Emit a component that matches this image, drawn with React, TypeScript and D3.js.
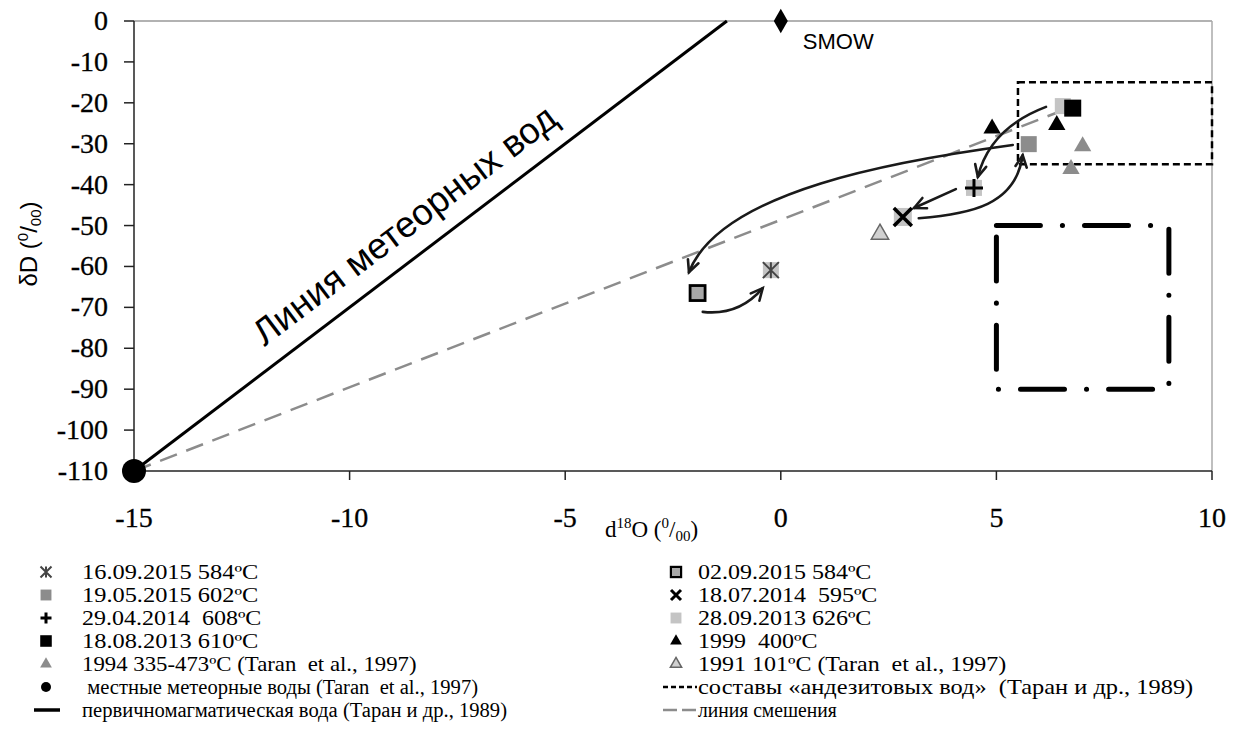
import React from "react";
import * as d3 from "d3";

type P = { x: number; y: number };

// ---- data ----
const xTicks = [-15, -10, -5, 0, 5, 10];
const yTicks = [0, -10, -20, -30, -40, -50, -60, -70, -80, -90, -100, -110];

const meteoricLine: P[] = [{ x: -15, y: -110 }, { x: -1.25, y: 0 }];
const mixingLine: P[] = [{ x: -15, y: -110 }, { x: 6.5, y: -22 }];
const localMeteoric: P[] = [{ x: -15, y: -110 }];
const smow: P[] = [{ x: 0, y: 0 }];

const andesiteBoxX = [5.5, 10];
const andesiteBoxY = [-35, -15];
const magmaticBoxX = [5, 9];
const magmaticBoxY = [-90, -50];

const s20150916: P[] = [{ x: -0.23, y: -60.9 }];
const s20150902: P[] = [{ x: -1.93, y: -66.5 }];
const s20150519: P[] = [{ x: 5.75, y: -30.1 }];
const s20140718: P[] = [{ x: 2.83, y: -47.9 }];
const s20140429: P[] = [{ x: 4.48, y: -40.8 }];
const s20130928: P[] = [{ x: 6.54, y: -20.8 }];
const s20130818: P[] = [{ x: 6.77, y: -21.3 }];
const s1999: P[] = [{ x: 4.9, y: -26.3 }, { x: 6.4, y: -25.4 }];
const s1994: P[] = [{ x: 7.0, y: -30.6 }, { x: 6.73, y: -36.2 }];
const s1991: P[] = [{ x: 2.3, y: -52.1 }];

// arrows (data coords): start, controls..., end
const arrows: P[][] = [
  [{ x: 6.15, y: -21.0 }, { x: 4.85, y: -26.2 }, { x: 4.57, y: -38.1 }],
  [{ x: 4.06, y: -41.1 }, { x: 3.09, y: -45.7 }],
  [{ x: 3.2, y: -48.2 }, { x: 4.41, y: -47.2 }, { x: 5.45, y: -45.0 }, { x: 5.61, y: -32.8 }],
  [{ x: 5.38, y: -30.3 }, { x: 2.78, y: -34.0 }, { x: -1.39, y: -41.3 }, { x: -2.13, y: -61.4 }],
  [{ x: -1.81, y: -71.1 }, { x: -0.97, y: -72.1 }, { x: -0.42, y: -65.3 }],
];

const meteoricLabel = "Линия метеорных вод";
const meteoricLabelAt: P = { x: -8.55, y: -52.3 };

const legendLeft = [
  "16.09.2015 584ºC",
  "19.05.2015 602ºC",
  "29.04.2014  608ºC",
  "18.08.2013 610ºC",
  "1994 335-473ºC (Taran  et al., 1997)",
  " местные метеорные воды (Taran  et al., 1997)",
  "первичномагматическая вода (Таран и др., 1989)",
];
const legendRight = [
  "02.09.2015 584ºC",
  "18.07.2014  595ºC",
  "28.09.2013 626ºC",
  "1999  400ºC",
  "1991 101ºC (Taran  et al., 1997)",
  "составы «андезитовых вод»  (Таран и др., 1989)",
  "линия смешения",
];

// ---- layout ----
const W = 1235;
const H = 751;
const xs = d3.scaleLinear().domain([-15, 10]).range([134, 1212]);
const ys = d3.scaleLinear().domain([-110, 0]).range([471, 21]);
const serif = "'Times New Roman', 'Liberation Serif', serif";
const sans = "Arial, 'Liberation Sans', sans-serif";

const GRAY = "#8c8c8c";
const LIGHT = "#c4c4c4";

function sym(type: d3.SymbolType, size: number) {
  return d3.symbol().type(type).size(size)() as string;
}

function plusPath(r: number) {
  return `M${-r},0H${r}M0,${-r}V${r}`;
}
function xPath(r: number) {
  return `M${-r},${-r}L${r},${r}M${-r},${r}L${r},${-r}`;
}
function asteriskPath(r: number) {
  return `M0,${-r}V${r}M${-r},${-r}L${r},${r}M${-r},${r}L${r},${-r}`;
}

function Marker({ kind, x, y, legend = false }: { kind: string; x: number; y: number; legend?: boolean }) {
  const k = legend ? 0.68 : 1;
  const t = `translate(${x},${y})`;
  switch (kind) {
    case "asterisk":
      return (
        <g transform={t}>
          {!legend && <rect x={-8} y={-8} width={16} height={16} fill={LIGHT} />}
          <path d={asteriskPath(legend ? 5.5 : 8)} stroke="#444" strokeWidth={2} fill="none" />
        </g>
      );
    case "graySquare":
      return <rect x={x - 8 * k} y={y - 8 * k} width={16 * k} height={16 * k} fill={GRAY} />;
    case "plus":
      return (
        <g transform={t}>
          {!legend && <rect x={-8} y={-8} width={16} height={16} fill={LIGHT} />}
          <path d={plusPath(legend ? 5.5 : 9)} stroke="#000" strokeWidth={3} fill="none" />
        </g>
      );
    case "blackSquare":
      return <rect x={x - 8.5 * k} y={y - 8.5 * k} width={17 * k} height={17 * k} fill="#000" />;
    case "grayTriangle":
      return <path transform={t} d={sym(d3.symbolTriangle, legend ? 60 : 130)} fill={GRAY} />;
    case "blackCircle":
      return <circle cx={x} cy={y} r={legend ? 5 : 12} fill="#000" />;
    case "outlineSquare":
      return (
        <rect x={x - 7.5 * k} y={y - 7.5 * k} width={15 * k} height={15 * k} fill="#a8a8a8" stroke="#000" strokeWidth={legend ? 2.2 : 2.8} />
      );
    case "xmark":
      return (
        <g transform={t}>
          {!legend && <rect x={-9} y={-9} width={18} height={18} fill={LIGHT} />}
          <path d={xPath(legend ? 5 : 9)} stroke="#000" strokeWidth={legend ? 3 : 3.5} fill="none" />
        </g>
      );
    case "lightSquare":
      return <rect x={x - 8 * k} y={y - 8 * k} width={16 * k} height={16 * k} fill={LIGHT} />;
    case "blackTriangle":
      return <path transform={t} d={sym(d3.symbolTriangle, legend ? 60 : 130)} fill="#000" />;
    case "openTriangle":
      return (
        <path transform={t} d={sym(d3.symbolTriangle, legend ? 55 : 130)} fill="#d0d0d0" stroke="#666" strokeWidth={1.5} />
      );
    case "diamond":
      return <path transform={t} d={sym(d3.symbolDiamond, 170)} fill="#000" />;
    case "solidLine":
      return <line x1={x - 12} x2={x + 14} y1={y} y2={y} stroke="#000" strokeWidth={3.5} />;
    case "dashLine":
      return <line x1={x - 13} x2={x + 21} y1={y} y2={y} stroke="#000" strokeWidth={2.5} strokeDasharray="5 3" />;
    case "grayDash":
      return <line x1={x - 13} x2={x + 21} y1={y} y2={y} stroke={GRAY} strokeWidth={2.5} strokeDasharray="14 5" />;
  }
  return null;
}

function arrowPath(pts: P[]) {
  const p = pts.map((d) => [xs(d.x), ys(d.y)]);
  let d = `M${p[0][0]},${p[0][1]}`;
  if (p.length === 2) d += `L${p[1][0]},${p[1][1]}`;
  else if (p.length === 3) d += `Q${p[1][0]},${p[1][1]} ${p[2][0]},${p[2][1]}`;
  else d += `C${p[1][0]},${p[1][1]} ${p[2][0]},${p[2][1]} ${p[3][0]},${p[3][1]}`;
  const e = p[p.length - 1];
  const b = p[p.length - 2];
  const ang = Math.atan2(e[1] - b[1], e[0] - b[0]);
  const L = 13;
  const a1 = ang + Math.PI - 0.45;
  const a2 = ang + Math.PI + 0.45;
  const head = `M${e[0] + L * Math.cos(a1)},${e[1] + L * Math.sin(a1)}L${e[0]},${e[1]}L${e[0] + L * Math.cos(a2)},${e[1] + L * Math.sin(a2)}`;
  return { d, head };
}

export default function App() {
  const line = d3
    .line<P>()
    .x((d) => xs(d.x))
    .y((d) => ys(d.y));

  const labelAngle =
    (Math.atan2(ys(meteoricLine[1].y) - ys(meteoricLine[0].y), xs(meteoricLine[1].x) - xs(meteoricLine[0].x)) * 180) /
    Math.PI;

  const left = ["asterisk", "graySquare", "plus", "blackSquare", "grayTriangle", "blackCircle", "solidLine"];
  const right = ["outlineSquare", "xmark", "lightSquare", "blackTriangle", "openTriangle", "dashLine", "grayDash"];
  const leftStretch = [1.22, 1.22, 1.2, 1.22, 1.14, 1.03, 1.03];
  const rightStretch = [1.2, 1.2, 1.2, 1.2, 1.2, 1.22, 0.98];
  const fs = 20;
  const rowCenter = (i: number) => 572 + i * 23;

  return (
    <svg width={W} height={H} style={{ position: "absolute", left: 0, top: 0, background: "#fff" }}>
      {/* frame */}
      <line x1={xs(-15)} x2={xs(10)} y1={ys(0)} y2={ys(0)} stroke="#999" strokeWidth={1.5} />
      <line x1={xs(10)} x2={xs(10)} y1={ys(0)} y2={ys(-110)} stroke="#aaa" strokeWidth={1.5} />
      {/* axes */}
      <line x1={xs(-15)} x2={xs(-15)} y1={ys(0)} y2={ys(-110)} stroke="#222" strokeWidth={1.5} />
      <line x1={xs(-15)} x2={xs(10)} y1={ys(-110)} y2={ys(-110)} stroke="#222" strokeWidth={1.5} />
      {yTicks.map((t) => (
        <g key={t}>
          <line x1={xs(-15) - 10} x2={xs(-15)} y1={ys(t)} y2={ys(t)} stroke="#222" strokeWidth={1.5} />
          <text x={108} y={ys(t) + 9} textAnchor="end" fontFamily={serif} fontSize={28} fill="#000" stroke="#000" strokeWidth={0.3}>
            {t}
          </text>
        </g>
      ))}
      {xTicks.map((t) => (
        <g key={t}>
          <line x1={xs(t)} x2={xs(t)} y1={ys(-110)} y2={ys(-110) + 9} stroke="#222" strokeWidth={1.5} />
          <text x={xs(t)} y={527} textAnchor="middle" fontFamily={serif} fontSize={28} fill="#000" stroke="#000" strokeWidth={0.3}>
            {t}
          </text>
        </g>
      ))}
      {/* axis titles */}
      <text x={605} y={537} fontFamily={serif} fontSize={23} fill="#000">
        d<tspan dy={-9} fontSize={15}>18</tspan>
        <tspan dy={9}>O (</tspan>
        <tspan dy={-9} fontSize={15}>0</tspan>
        <tspan dy={9}>/</tspan>
        <tspan dy={4} fontSize={15}>00</tspan>
        <tspan dy={-4}>)</tspan>
      </text>
      <text transform={`translate(37,${244}) rotate(-90)`} textAnchor="middle" fontFamily={sans} fontSize={24} fill="#000">
        δD (<tspan dy={-9} fontSize={15}>0</tspan>
        <tspan dy={9}>/</tspan>
        <tspan dy={4} fontSize={15}>00</tspan>
        <tspan dy={-4}>)</tspan>
      </text>

      {/* boxes */}
      <rect
        x={xs(andesiteBoxX[0])}
        y={ys(andesiteBoxY[1])}
        width={xs(andesiteBoxX[1]) - xs(andesiteBoxX[0])}
        height={ys(andesiteBoxY[0]) - ys(andesiteBoxY[1])}
        fill="none"
        stroke="#000"
        strokeWidth={2.5}
        strokeDasharray="7 4"
      />
      <rect
        x={xs(magmaticBoxX[0])}
        y={ys(magmaticBoxY[1])}
        width={xs(magmaticBoxX[1]) - xs(magmaticBoxX[0])}
        height={ys(magmaticBoxY[0]) - ys(magmaticBoxY[1])}
        fill="none"
        stroke="#000"
        strokeWidth={5}
        strokeLinecap="round"
        strokeDasharray="44 22 0.1 22"
      />

      {/* lines */}
      <path d={line(mixingLine) || ""} stroke={GRAY} strokeWidth={2.5} strokeDasharray="18 10" fill="none" />
      <path d={line(meteoricLine) || ""} stroke="#000" strokeWidth={3} fill="none" />
      <text
        transform={`translate(${xs(meteoricLabelAt.x)},${ys(meteoricLabelAt.y)}) rotate(${labelAngle})`}
        textAnchor="middle"
        fontFamily={sans}
        fontSize={36.5}
        fill="#000"
      >
        {meteoricLabel}
      </text>

      {/* points */}
      {smow.map((d, i) => (
        <Marker key={"sm" + i} kind="diamond" x={xs(d.x)} y={ys(d.y)} />
      ))}
      <text x={xs(0) + 22} y={ys(0) + 28} fontFamily={sans} fontSize={22} fill="#000">
        SMOW
      </text>
      {localMeteoric.map((d, i) => (
        <Marker key={"lm" + i} kind="blackCircle" x={xs(d.x)} y={ys(d.y)} />
      ))}
      {s1999.map((d, i) => (
        <Marker key={"a" + i} kind="blackTriangle" x={xs(d.x)} y={ys(d.y)} />
      ))}
      {s1994.map((d, i) => (
        <Marker key={"b" + i} kind="grayTriangle" x={xs(d.x)} y={ys(d.y)} />
      ))}
      {s1991.map((d, i) => (
        <Marker key={"c" + i} kind="openTriangle" x={xs(d.x)} y={ys(d.y)} />
      ))}
      {s20130928.map((d, i) => (
        <Marker key={"d" + i} kind="lightSquare" x={xs(d.x)} y={ys(d.y)} />
      ))}
      {s20130818.map((d, i) => (
        <Marker key={"e" + i} kind="blackSquare" x={xs(d.x)} y={ys(d.y)} />
      ))}
      {s20150519.map((d, i) => (
        <Marker key={"f" + i} kind="graySquare" x={xs(d.x)} y={ys(d.y)} />
      ))}
      {s20140429.map((d, i) => (
        <Marker key={"g" + i} kind="plus" x={xs(d.x)} y={ys(d.y)} />
      ))}
      {s20140718.map((d, i) => (
        <Marker key={"h" + i} kind="xmark" x={xs(d.x)} y={ys(d.y)} />
      ))}
      {s20150916.map((d, i) => (
        <Marker key={"i" + i} kind="asterisk" x={xs(d.x)} y={ys(d.y)} />
      ))}
      {s20150902.map((d, i) => (
        <Marker key={"j" + i} kind="outlineSquare" x={xs(d.x)} y={ys(d.y)} />
      ))}

      {/* arrows */}
      {arrows.map((a, i) => {
        const { d, head } = arrowPath(a);
        return (
          <g key={"ar" + i} stroke="#1a1a1a" strokeWidth={2.6} fill="none" strokeLinecap="round">
            <path d={d} />
            <path d={head} />
          </g>
        );
      })}

      {/* legend */}
      {legendLeft.map((t, i) => (
        <g key={"l" + i}>
          <Marker kind={left[i]} x={46} y={rowCenter(i)} legend />
          <text
            transform={`translate(82,${rowCenter(i) + 7}) scale(${leftStretch[i]},1)`}
            fontFamily={serif}
            fontSize={fs}
            fill="#000"
            style={{ whiteSpace: "pre" }}
          >
            {t}
          </text>
        </g>
      ))}
      {legendRight.map((t, i) => (
        <g key={"r" + i}>
          <Marker kind={right[i]} x={676} y={rowCenter(i)} legend />
          <text
            transform={`translate(698,${rowCenter(i) + 7}) scale(${rightStretch[i]},1)`}
            fontFamily={serif}
            fontSize={fs}
            fill="#000"
            style={{ whiteSpace: "pre" }}
          >
            {t}
          </text>
        </g>
      ))}
    </svg>
  );
}
